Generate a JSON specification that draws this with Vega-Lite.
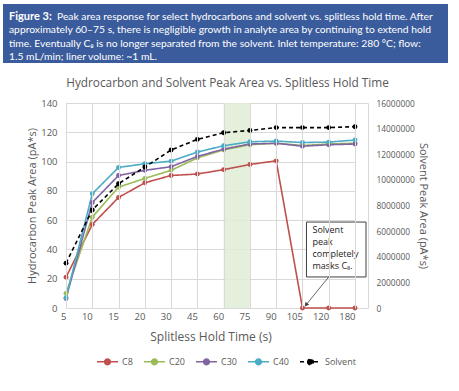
{
  "$schema": "https://vega.github.io/schema/vega-lite/v6.json",
  "background": "white",
  "padding": {"left": 3, "top": 4, "right": 0, "bottom": 0},
  "config": {
    "font": "Open Sans",
    "view": {"stroke": null},
    "legend": {"layout": {"bottom": {"anchor": "middle"}}}
  },
  "spacing": 14,
  "vconcat": [
    {
      "width": 445,
      "height": 59,
      "view": {"fill": "#3b5c9c", "stroke": null},
      "data": {"values": [
        {"ln": 1, "part": "b", "txt": "Figure 3:"},
        {"ln": 1, "part": "r", "txt": "Peak area response for select hydrocarbons and solvent vs. splitless hold time. After"},
        {"ln": 2, "part": "n", "txt": "approximately 60–75 s, there is negligible growth in analyte area by continuing to extend hold"},
        {"ln": 3, "part": "n", "txt": "time. Eventually C₈ is no longer separated from the solvent. Inlet temperature: 280 °C; flow:"},
        {"ln": 4, "part": "n", "txt": "1.5 mL/min; liner volume: ~1 mL."}
      ]},
      "encoding": {
        "y": {"field": "ln", "type": "ordinal", "scale": {"type": "point", "range": [12.5, 53], "padding": 0}, "axis": null},
        "x": {"datum": 0, "type": "quantitative", "scale": {"domain": [0, 1]}, "axis": null},
        "text": {"field": "txt"}
      },
      "layer": [
        {"transform": [{"filter": "datum.part == 'b'"}],
         "mark": {"type": "text", "align": "left", "baseline": "middle", "dx": 6, "font": "Lato", "fontSize": 11, "fontWeight": "bold", "color": "white"}},
        {"transform": [{"filter": "datum.part == 'r'"}],
         "mark": {"type": "text", "align": "left", "baseline": "middle", "dx": 54, "font": "Lato", "fontSize": 10.3, "color": "white"}},
        {"transform": [{"filter": "datum.part == 'n'"}],
         "mark": {"type": "text", "align": "left", "baseline": "middle", "dx": 6, "font": "Lato", "fontSize": 10.3, "color": "white"}}
      ]
    },
    {
      "spacing": 22,
      "hconcat": [
        {
          "width": 1, "height": 1,
          "data": {"values": [{}]},
          "mark": {"type": "text"},
          "encoding": {"text": {"value": ""}}
        },
        {
          "width": 302,
          "height": 205,
          "view": {"stroke": "#d9d9d9"},
          "title": {"text": "Hydrocarbon and Solvent Peak Area vs. Splitless Hold Time", "frame": "bounds", "anchor": "middle", "fontSize": 11.8, "fontWeight": "normal", "color": "#595959", "offset": 8},
          "data": {"values": [
            {"t": "5", "s": "C8", "v": 21}, {"t": "10", "s": "C8", "v": 57}, {"t": "15", "s": "C8", "v": 75.5}, {"t": "20", "s": "C8", "v": 85.5}, {"t": "30", "s": "C8", "v": 90.5}, {"t": "45", "s": "C8", "v": 91.5}, {"t": "60", "s": "C8", "v": 94.5}, {"t": "75", "s": "C8", "v": 98}, {"t": "90", "s": "C8", "v": 100.5}, {"t": "105", "s": "C8", "v": 0}, {"t": "120", "s": "C8", "v": 0}, {"t": "180", "s": "C8", "v": 0},
            {"t": "5", "s": "C20", "v": 10}, {"t": "10", "s": "C20", "v": 62}, {"t": "15", "s": "C20", "v": 82.5}, {"t": "20", "s": "C20", "v": 88.5}, {"t": "30", "s": "C20", "v": 94}, {"t": "45", "s": "C20", "v": 102.5}, {"t": "60", "s": "C20", "v": 108}, {"t": "75", "s": "C20", "v": 111.5}, {"t": "90", "s": "C20", "v": 112.5}, {"t": "105", "s": "C20", "v": 111}, {"t": "120", "s": "C20", "v": 112}, {"t": "180", "s": "C20", "v": 112.5},
            {"t": "5", "s": "C30", "v": 6.5}, {"t": "10", "s": "C30", "v": 72}, {"t": "15", "s": "C30", "v": 90.5}, {"t": "20", "s": "C30", "v": 94}, {"t": "30", "s": "C30", "v": 96.5}, {"t": "45", "s": "C30", "v": 103.5}, {"t": "60", "s": "C30", "v": 108.5}, {"t": "75", "s": "C30", "v": 112}, {"t": "90", "s": "C30", "v": 112.5}, {"t": "105", "s": "C30", "v": 110.5}, {"t": "120", "s": "C30", "v": 111.5}, {"t": "180", "s": "C30", "v": 112},
            {"t": "5", "s": "C40", "v": 7}, {"t": "10", "s": "C40", "v": 78}, {"t": "15", "s": "C40", "v": 96}, {"t": "20", "s": "C40", "v": 98.5}, {"t": "30", "s": "C40", "v": 100.3}, {"t": "45", "s": "C40", "v": 106.5}, {"t": "60", "s": "C40", "v": 110.8}, {"t": "75", "s": "C40", "v": 113.5}, {"t": "90", "s": "C40", "v": 114}, {"t": "105", "s": "C40", "v": 113}, {"t": "120", "s": "C40", "v": 113.3}, {"t": "180", "s": "C40", "v": 114.7},
            {"t": "5", "s": "Solvent", "v": 3500000}, {"t": "10", "s": "Solvent", "v": 7650000}, {"t": "15", "s": "Solvent", "v": 9700000}, {"t": "20", "s": "Solvent", "v": 11000000}, {"t": "30", "s": "Solvent", "v": 12330000}, {"t": "45", "s": "Solvent", "v": 13160000}, {"t": "60", "s": "Solvent", "v": 13680000}, {"t": "75", "s": "Solvent", "v": 13860000}, {"t": "90", "s": "Solvent", "v": 14080000}, {"t": "105", "s": "Solvent", "v": 14080000}, {"t": "120", "s": "Solvent", "v": 14080000}, {"t": "180", "s": "Solvent", "v": 14150000}
          ]},
          "layer": [
            {
              "data": {"values": [{}]},
              "mark": {"type": "rect", "color": "#dfedd6", "opacity": 0.85},
              "encoding": {
                "x": {"datum": "60", "type": "ordinal", "scale": {"type": "point"}},
                "x2": {"datum": "75"}
              }
            },
            {
              "layer": [
                {
                  "transform": [{"filter": "datum.s != 'Solvent'"}],
                  "mark": {"type": "line", "strokeWidth": 1.6, "point": {"filled": true, "size": 24}},
                  "encoding": {
                    "x": {"field": "t", "type": "ordinal", "sort": null,
                          "scale": {"type": "point", "domain": ["5","10","15","20","30","45","60","75","90","105","120","180"], "range": [0, 289], "padding": 0},
                          "axis": {"title": "Splitless Hold Time (s)", "labelAngle": 0, "grid": true, "gridColor": "#d9d9d9", "ticks": false, "domain": false, "labelPadding": 8, "titlePadding": 11, "titleFontSize": 12, "titleFontWeight": "normal", "titleColor": "#595959", "labelColor": "#595959", "labelFontSize": 9.5}},
                    "y": {"field": "v", "type": "quantitative",
                          "scale": {"domain": [0, 140]},
                          "axis": {"title": "Hydrocarbon Peak Area (pA*s)", "values": [0,20,40,60,80,100,120,140], "labelOverlap": false, "minExtent": 0, "grid": true, "gridColor": "#d9d9d9", "domain": false, "ticks": false, "labelPadding": 9, "titlePadding": 3, "titleFontSize": 11, "titleFontWeight": "normal", "titleColor": "#595959", "labelColor": "#595959", "labelFontSize": 9.5}},
                    "color": {"field": "s", "type": "nominal",
                              "scale": {"domain": ["C8","C20","C30","C40","Solvent"], "range": ["#C0504D","#9BBB59","#8064A2","#4BACC6","#000000"]},
                              "legend": {"orient": "bottom", "direction": "horizontal", "title": null, "columns": 5, "labelFontSize": 9, "labelColor": "#595959",
                                         "symbolType": "M-1,0H1M-0.27,0A0.27,0.27 0 1,0 0.27,0A0.27,0.27 0 1,0 -0.27,0", "symbolSize": 441, "symbolStrokeWidth": 1.5,
                                         "columnPadding": 8, "labelOffset": 3, "offset": 7,
                                         "encode": {"symbols": {"update": {"fill": {"scale": "color", "field": "value"}}}}}},
                    "strokeDash": {"field": "s", "type": "nominal",
                                   "scale": {"domain": ["C8","C20","C30","C40","Solvent"], "range": [[1,0],[1,0],[1,0],[1,0],[4,3]]},
                                   "legend": {"orient": "bottom", "direction": "horizontal", "title": null, "columns": 5, "labelFontSize": 9, "labelColor": "#595959",
                                         "symbolType": "M-1,0H1M-0.27,0A0.27,0.27 0 1,0 0.27,0A0.27,0.27 0 1,0 -0.27,0", "symbolSize": 441, "symbolStrokeWidth": 1.5,
                                         "columnPadding": 8, "labelOffset": 3, "offset": 7}}
                  }
                },
                {
                  "data": {"values": [{}]},
                  "mark": {"type": "rect", "fill": "white", "stroke": "#404040", "strokeWidth": 1, "xOffset": 4, "x2Offset": 11},
                  "encoding": {
                    "x": {"datum": "105", "type": "ordinal"},
                    "x2": {"datum": "180"},
                    "y": {"datum": 58.7, "type": "quantitative",
                          "axis": {"title": "Hydrocarbon Peak Area (pA*s)", "values": [0,20,40,60,80,100,120,140], "labelOverlap": false, "minExtent": 0, "grid": true, "gridColor": "#d9d9d9", "domain": false, "ticks": false, "labelPadding": 9, "titlePadding": 3, "titleFontSize": 11, "titleFontWeight": "normal", "titleColor": "#595959", "labelColor": "#595959", "labelFontSize": 9.5}},
                    "y2": {"datum": 21.2}
                  }
                },
                {
                  "data": {"values": [{}]},
                  "mark": {"type": "text", "align": "left", "baseline": "top", "dx": 10, "fontSize": 9, "lineHeight": 12.3, "color": "#1a1a1a"},
                  "encoding": {
                    "x": {"datum": "105", "type": "ordinal"},
                    "y": {"datum": 56.3, "type": "quantitative",
                          "axis": {"title": "Hydrocarbon Peak Area (pA*s)", "values": [0,20,40,60,80,100,120,140], "labelOverlap": false, "minExtent": 0, "grid": true, "gridColor": "#d9d9d9", "domain": false, "ticks": false, "labelPadding": 9, "titlePadding": 3, "titleFontSize": 11, "titleFontWeight": "normal", "titleColor": "#595959", "labelColor": "#595959", "labelFontSize": 9.5}},
                    "text": {"value": ["Solvent", "peak", "completely", "masks C₈."]}
                  }
                },
                {
                  "data": {"values": [{}]},
                  "mark": {"type": "rule", "color": "#404040", "strokeWidth": 0.8, "x2Offset": 4},
                  "encoding": {
                    "x": {"datum": "120", "type": "ordinal"},
                    "y": {"datum": 21.2, "type": "quantitative",
                          "axis": {"title": "Hydrocarbon Peak Area (pA*s)", "values": [0,20,40,60,80,100,120,140], "labelOverlap": false, "minExtent": 0, "grid": true, "gridColor": "#d9d9d9", "domain": false, "ticks": false, "labelPadding": 9, "titlePadding": 3, "titleFontSize": 11, "titleFontWeight": "normal", "titleColor": "#595959", "labelColor": "#595959", "labelFontSize": 9.5}},
                    "x2": {"datum": "105"},
                    "y2": {"datum": 2.5}
                  }
                },
                {
                  "data": {"values": [{}]},
                  "mark": {"type": "point", "shape": "triangle", "filled": true, "color": "#404040", "size": 22, "angle": 220, "xOffset": 4, "opacity": 1},
                  "encoding": {
                    "x": {"datum": "105", "type": "ordinal"},
                    "y": {"datum": 2.5, "type": "quantitative",
                          "axis": {"title": "Hydrocarbon Peak Area (pA*s)", "values": [0,20,40,60,80,100,120,140], "labelOverlap": false, "minExtent": 0, "grid": true, "gridColor": "#d9d9d9", "domain": false, "ticks": false, "labelPadding": 9, "titlePadding": 3, "titleFontSize": 11, "titleFontWeight": "normal", "titleColor": "#595959", "labelColor": "#595959", "labelFontSize": 9.5}}
                  }
                }
              ]
            },
            {
              "transform": [{"filter": "datum.s == 'Solvent'"}],
              "mark": {"type": "line", "strokeWidth": 1.6, "point": {"filled": true, "size": 24}},
              "encoding": {
                "x": {"field": "t", "type": "ordinal", "sort": null},
                "y": {"field": "v", "type": "quantitative",
                      "scale": {"domain": [0, 16000000]},
                      "axis": {"orient": "right", "title": "Solvent Peak Area (pA*s)", "values": [0,2000000,4000000,6000000,8000000,10000000,12000000,14000000,16000000], "format": "d", "labelOverlap": false, "minExtent": 0, "grid": false, "domain": false, "ticks": false, "labelPadding": 8, "titlePadding": 3, "titleFontSize": 11, "titleFontWeight": "normal", "titleColor": "#595959", "labelColor": "#595959", "labelFontSize": 8.4}},
                "color": {"field": "s", "type": "nominal"},
                "strokeDash": {"field": "s", "type": "nominal"}
              }
            }
          ],
          "resolve": {"scale": {"y": "independent"}}
        }
      ]
    }
  ]
}
